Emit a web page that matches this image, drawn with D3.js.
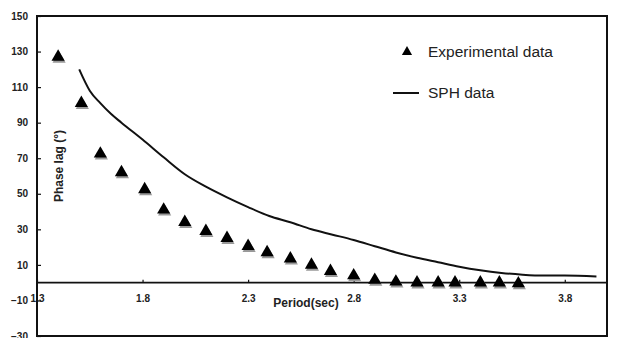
<!DOCTYPE html>
<html>
<head>
<meta charset="utf-8">
<script src="https://cdn.jsdelivr.net/npm/d3@7"></script>
<style>
  body { margin: 0; background: #fff; }
  svg { display: block; font-family: "Liberation Sans", Arial, sans-serif; }
</style>
</head>
<body>
<div id="chart"></div>
<script>
// experimental points (period in sec, phase lag in degrees)
var expPeriod = [1.40, 1.51, 1.60, 1.70, 1.81, 1.90, 2.00, 2.10, 2.20, 2.30, 2.39, 2.50, 2.60, 2.69, 2.80, 2.90, 3.00, 3.10, 3.20, 3.28, 3.40, 3.49, 3.58];
var expPhase  = [127, 101, 72.5, 62, 52.5, 41, 34, 29, 25, 20.5, 17, 13.5, 10, 6.5, 4, 1.5, 0.5, 0, 0, 0, 0, 0, -0.5];

// SPH curve
var sphPeriod = [1.50, 1.55, 1.60, 1.65, 1.70, 1.80, 1.90, 2.00, 2.10, 2.20, 2.30, 2.40, 2.50, 2.60, 2.70, 2.80, 2.90, 3.00, 3.10, 3.20, 3.30, 3.40, 3.50, 3.60, 3.70, 3.80, 3.95];
var sphPhase  = [120, 108, 101, 95, 90, 80.5, 70.5, 61, 54, 48, 42.5, 37.5, 34, 30, 27, 24, 20.5, 17, 14, 11.5, 9, 7, 5.5, 4.5, 4, 4, 3.5];

var xTicks = [1.3, 1.8, 2.3, 2.8, 3.3, 3.8];
var yTicks = [-30, -10, 10, 30, 50, 70, 90, 110, 130, 150];

var width = 619, height = 338;
var margin = { top: 16, right: 12, bottom: 2, left: 37 };

var svg = d3.select("#chart").append("svg")
    .attr("width", width)
    .attr("height", height);

var x = d3.scaleLinear().domain([1.3, 4.0]).range([margin.left, width - margin.right]);
var y = d3.scaleLinear().domain([-30, 150]).range([height - margin.bottom, margin.top]);

// y axis (ticks inward)
var yAxis = svg.append("g")
    .attr("transform", "translate(" + margin.left + ",0)")
    .call(d3.axisLeft(y).tickValues(yTicks).tickSizeInner(-4).tickSizeOuter(0).tickPadding(9));
yAxis.select(".domain").remove();
yAxis.selectAll("text").style("font-size", "10px").style("font-weight", "bold").attr("fill", "#222");
yAxis.selectAll("line").attr("stroke", "#111").attr("stroke-width", 1.2);

// x axis along zero line
var xAxis = svg.append("g")
    .attr("transform", "translate(0," + y(0) + ")")
    .call(d3.axisBottom(x).tickValues(xTicks).tickSizeInner(-3).tickSizeOuter(0).tickPadding(12).tickFormat(d3.format(".1f")));
xAxis.select(".domain").remove();
xAxis.selectAll("text").style("font-size", "10px").style("font-weight", "bold").attr("fill", "#222");
xAxis.selectAll("line").attr("stroke", "#111").attr("stroke-width", 1.2);

// zero line
svg.append("line")
    .attr("x1", x(1.3)).attr("x2", x(4.0))
    .attr("y1", y(0)).attr("y2", y(0))
    .attr("stroke", "#111").attr("stroke-width", 1.6);

// plot frame
svg.append("rect")
    .attr("x", x(1.3)).attr("y", y(150))
    .attr("width", x(4.0) - x(1.3))
    .attr("height", y(-30) - y(150))
    .attr("fill", "none")
    .attr("stroke", "#111")
    .attr("stroke-width", 2);

// SPH line
var sphData = sphPeriod.map(function(p, i) { return { p: p, v: sphPhase[i] }; });
svg.append("path")
    .datum(sphData)
    .attr("fill", "none")
    .attr("stroke", "#111")
    .attr("stroke-width", 2)
    .attr("d", d3.line()
        .curve(d3.curveMonotoneX)
        .x(function(d) { return x(d.p); })
        .y(function(d) { return y(d.v); }));

// experimental triangles
var expData = expPeriod.map(function(p, i) { return { p: p, v: expPhase[i] }; });
var tri = d3.symbol().type(d3.symbolTriangle).size(75);

svg.append("g").selectAll("path.shadow")
    .data(expData)
    .enter().append("path")
    .attr("class", "shadow")
    .attr("d", tri)
    .attr("transform", function(d) { return "translate(" + (x(d.p) + 1) + "," + (y(d.v) + 2) + ")"; })
    .attr("fill", "#999");

svg.append("g").selectAll("path.pt")
    .data(expData)
    .enter().append("path")
    .attr("class", "pt")
    .attr("d", tri)
    .attr("transform", function(d) { return "translate(" + x(d.p) + "," + y(d.v) + ")"; })
    .attr("fill", "#000");

// axis titles
svg.append("text")
    .attr("x", 306).attr("y", 307)
    .attr("text-anchor", "middle")
    .style("font-size", "12px").style("font-weight", "bold")
    .attr("fill", "#222")
    .text("Period(sec)");

svg.append("text")
    .attr("transform", "translate(63,166) rotate(-90)")
    .attr("text-anchor", "middle")
    .style("font-size", "12px").style("font-weight", "bold")
    .attr("fill", "#222")
    .text("Phase lag (°)");

// legend
svg.append("path")
    .attr("d", d3.symbol().type(d3.symbolTriangle).size(45))
    .attr("transform", "translate(407,52)")
    .attr("fill", "#000");
svg.append("text")
    .attr("x", 428).attr("y", 57)
    .style("font-size", "15.5px")
    .attr("fill", "#222")
    .text("Experimental data");

svg.append("line")
    .attr("x1", 393).attr("x2", 419)
    .attr("y1", 93).attr("y2", 93)
    .attr("stroke", "#111").attr("stroke-width", 2);
svg.append("text")
    .attr("x", 428).attr("y", 98)
    .style("font-size", "15.5px")
    .attr("fill", "#222")
    .text("SPH data");
</script>
</body>
</html>
